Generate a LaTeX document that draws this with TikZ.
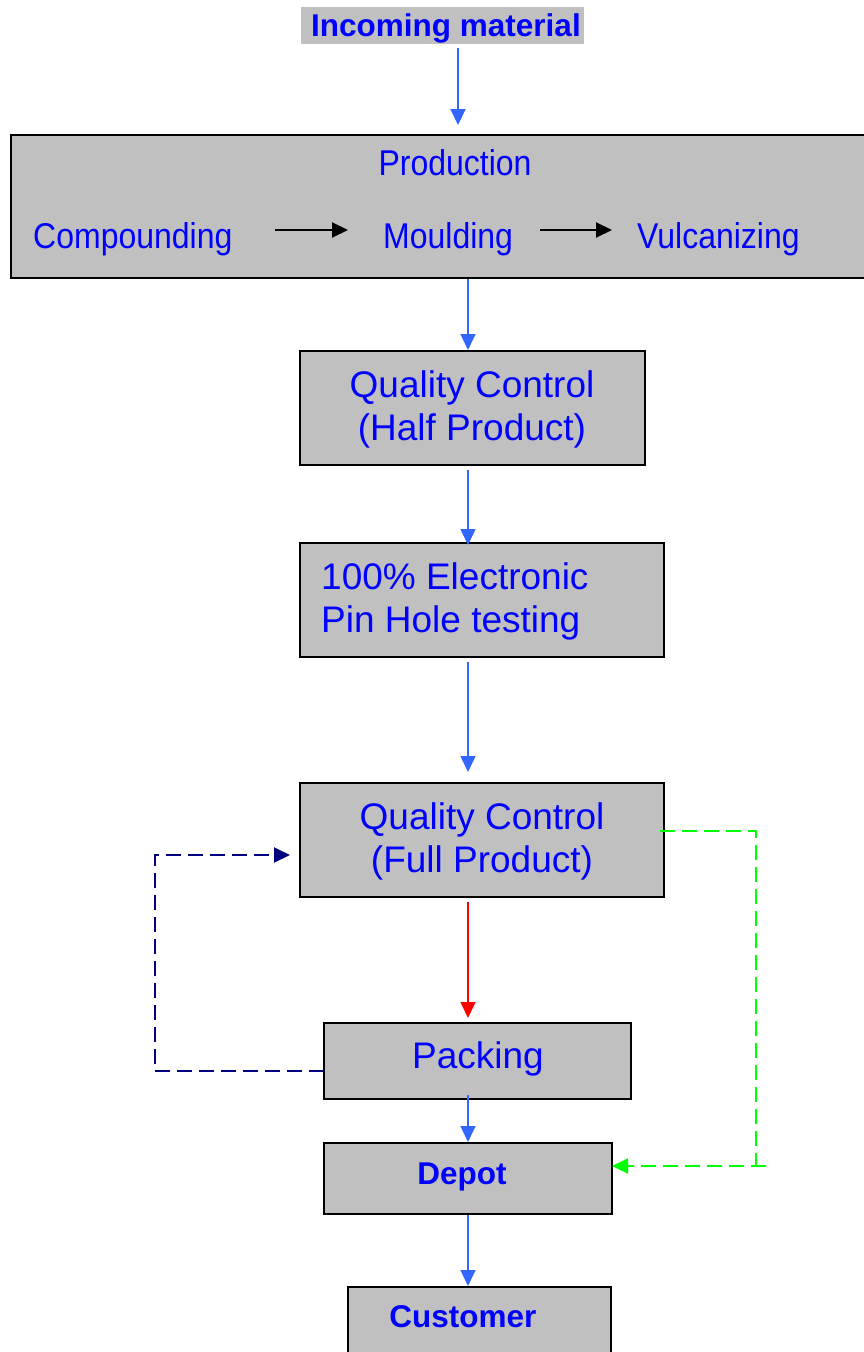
\documentclass[tikz,border=0pt]{standalone}
\usepackage{fontspec}
\setmainfont{Liberation Sans}
\usetikzlibrary{arrows.meta}
\definecolor{boxgray}{RGB}{192,192,192}
\definecolor{txtblue}{RGB}{0,0,255}
\definecolor{arrblue}{RGB}{51,102,255}
\definecolor{navyd}{RGB}{0,0,128}
\definecolor{greend}{RGB}{0,255,0}
\tikzset{
  box/.style={draw=black, line width=2pt, fill=boxgray, inner sep=0pt},
  big/.style={text=txtblue, font=\fontsize{37}{43}\selectfont, inner sep=0pt, anchor=base},
  mid/.style={text=txtblue, font=\fontsize{32}{37}\selectfont, inner sep=0pt, anchor=base, yscale=1.12},
  bld/.style={text=txtblue, font=\fontsize{31.5}{37}\selectfont\bfseries, inner sep=0pt, anchor=base},
  flow/.style={draw=arrblue, line width=2pt, -{Triangle[length=16pt,width=15pt]}},
  blk/.style={draw=black, line width=2pt, -{Triangle[length=16pt,width=15pt]}},
}
\begin{document}
\begin{tikzpicture}[x=1pt,y=-1pt]
\useasboundingbox (0,0) rectangle (864,1352);
% boxes
\node[fill=boxgray, inner sep=0pt, minimum width=283pt, minimum height=37pt] (inc) at (442.5,25.5) {};
\node[box, minimum width=870pt, minimum height=143pt] (prod) at (446,206.5) {};
\node[box, minimum width=345pt, minimum height=114pt] (qch) at (472.5,408) {};
\node[box, minimum width=364pt, minimum height=114pt] (pin) at (482,600) {};
\node[box, minimum width=364pt, minimum height=114pt] (qcf) at (482,840) {};
\node[box, minimum width=307pt, minimum height=76pt] (pack) at (477.5,1061) {};
\node[box, minimum width=288pt, minimum height=71pt] (dep) at (468,1178.5) {};
\node[box, minimum width=263pt, minimum height=90pt] (cus) at (479.5,1332) {};
% texts
\node[bld] (tinc) at (446,36) {Incoming material};
\node[mid] (tprod) at (455,175) {Production};
\node[mid, anchor=base west] (tcomp) at (33,248) {Compounding};
\node[mid, anchor=base west] (tmoul) at (383,248) {Moulding};
\node[mid, anchor=base west] (tvulc) at (637,248) {Vulcanizing};
\node[big] (tqch1) at (472,397) {Quality Control};
\node[big] (tqch2) at (472,440) {(Half Product)};
\node[big, anchor=base west] (tpin1) at (321,589) {100\% Electronic};
\node[big, anchor=base west] (tpin2) at (321,632) {Pin Hole testing};
\node[big] (tqcf1) at (482,829) {Quality Control};
\node[big] (tqcf2) at (482,872) {(Full Product)};
\node[big] (tpack) at (478,1068) {Packing};
\node[bld] (tdep) at (462,1184) {Depot};
\node[bld] (tcus) at (463,1327) {Customer};
% coordinates for connectors
\coordinate (a1) at (458,48);
\coordinate (a2) at (458,125);
\coordinate (c1) at (275,230);
\coordinate (c2) at (348,230);
\coordinate (c3) at (540,230);
\coordinate (c4) at (612,230);
\coordinate (b1) at (468,279);
\coordinate (b2) at (468,350);
\coordinate (d1) at (468,470);
\coordinate (d2) at (468,545);
\coordinate (e1) at (468,662);
\coordinate (e2) at (468,772);
\coordinate (f1) at (468,902);
\coordinate (f2) at (468,1018);
\coordinate (g1) at (468,1095);
\coordinate (g2) at (468,1142);
\coordinate (h1) at (468,1215);
\coordinate (h2) at (468,1286);
\coordinate (n1) at (324,1071);
\coordinate (n2) at (155,1071);
\coordinate (n3) at (155,855);
\coordinate (n4) at (290,855);
\coordinate (q1) at (660,831);
\coordinate (q2) at (756,831);
\coordinate (q3) at (756,1166);
\coordinate (q4) at (766,1166);
\coordinate (q5) at (612,1166);
% connectors
\draw[flow] (a1) -- (a2);
\draw[blk] (c1) -- (c2);
\draw[blk] (c3) -- (c4);
\draw[flow, line width=1.5pt] (b1) -- (b2);
\draw[flow, line width=1.5pt] (d1) -- (d2);
\draw[flow, line width=1.5pt] (e1) -- (e2);
\draw[flow, draw=red, line width=1.5pt] (f1) -- (f2);
\draw[flow, line width=1.5pt] (g1) -- (g2);
\draw[flow, line width=1.5pt] (h1) -- (h2);
\draw[navyd, line width=2pt, dash pattern=on 15pt off 7pt, -{Triangle[length=16pt,width=15pt]}] (n1) -- (n2) -- (n3) -- (n4);
\draw[greend, line width=2pt, dash pattern=on 15pt off 7pt] (q1) -- (q2) -- (q3);
\draw[greend, line width=2pt, dash pattern=on 15pt off 7pt, -{Triangle[length=16pt,width=15pt]}] (q4) -- (q5);
\end{tikzpicture}
\end{document}
